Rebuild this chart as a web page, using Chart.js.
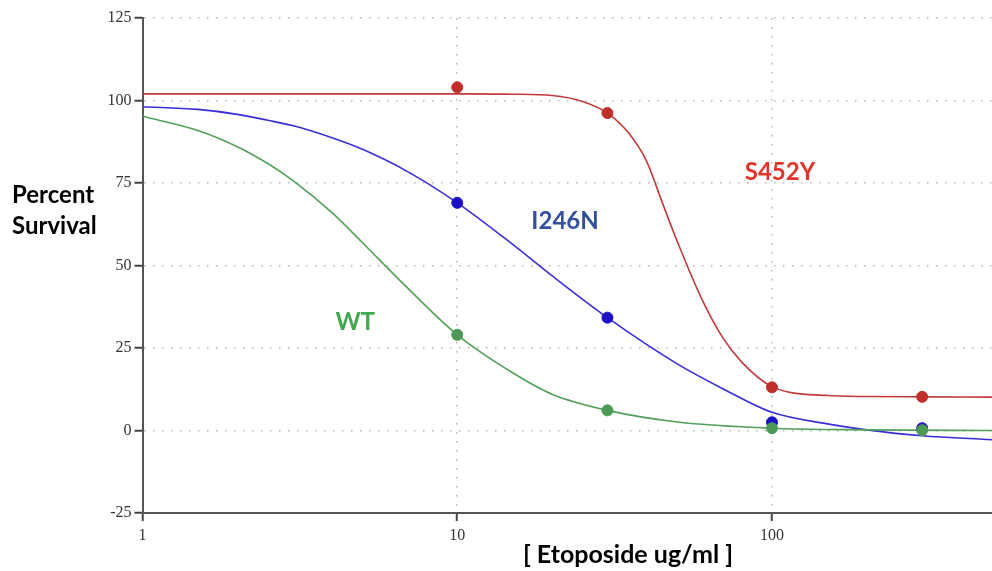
<!DOCTYPE html>
<html>
<head>
<meta charset="utf-8">
<script src="https://cdn.jsdelivr.net/npm/chart.js@4/dist/chart.umd.min.js"></script>
<style>
  html, body { margin: 0; padding: 0; background: #fff; }
  #wrap { width: 992px; height: 571px; }
</style>
</head>
<body>
<div id="wrap"><canvas id="chart1" width="992" height="571"></canvas></div>
<script>
// measured doses and survival
const doses = [10, 30, 100, 300];
const wtPoints = [29, 6.1, 0.7, 0.1];
const i246nPoints = [69, 34.2, 2.5, 0.7];
const s452yPoints = [104, 96.2, 13.1, 10.2];

// fitted curves
const wtCurveX = [1, 1.5, 2, 2.5, 3, 4, 5, 7, 10, 15, 20, 30, 50, 100, 200, 500];
const wtCurveY = [95.2, 90.9, 86, 80.9, 75.8, 66, 56.9, 42.9, 29, 17.5, 11, 6.1, 2.6, 0.7, 0.2, 0];

const i246nCurveX = [1, 1.5, 2, 2.5, 3, 4, 5, 7, 10, 15, 20, 30, 50, 70, 100, 150, 200, 300, 500];
const i246nCurveY = [98.1, 97.3, 95.8, 94, 92.4, 88.7, 85.2, 78.3, 69, 56.4, 46.9, 34.2, 20.2, 12.6, 5.5, 2, 0.2, -1.6, -2.8];

const s452yCurveX = [1, 5, 10, 15, 20, 25, 30, 35, 40, 45, 50, 60, 70, 80, 100, 150, 200, 300, 500];
const s452yCurveY = [102, 102, 102, 101.9, 101.5, 99.7, 96.2, 90.2, 81.5, 68.6, 57.3, 39.6, 27.9, 20.8, 13.3, 10.6, 10.3, 10.2, 10.1];

const xTicks = [1, 10, 100];

// series labels placed on the plot
const seriesLabels = [
  { text: 'S452Y', x: 106, y: 78.4, color: '#e2342b' },
  { text: 'I246N', x: 22, y: 63.5, color: '#33509c' },
  { text: 'WT', x: 4.74, y: 32.8, color: '#44a853' }
];

const toXY = (xs, ys) => xs.map((x, i) => ({ x: x, y: ys[i] }));

const labelsPlugin = {
  id: 'labelsPlugin',
  afterDraw(chart) {
    const ctx = chart.ctx;
    const xs = chart.scales.x, ys = chart.scales.y;
    ctx.save();
    ctx.textAlign = 'center';
    ctx.textBaseline = 'middle';
    ctx.font = 'bold 24px Lato';
    seriesLabels.forEach(l => {
      ctx.fillStyle = l.color;
      ctx.fillText(l.text, xs.getPixelForValue(l.x), ys.getPixelForValue(l.y));
    });
    // axis titles
    ctx.fillStyle = '#000';
    ctx.textAlign = 'left';
    ctx.font = 'bold 24px Lato';
    ctx.fillText('Percent', 12, 195);
    ctx.fillText('Survival', 12, 226);
    ctx.textAlign = 'center';
    ctx.font = 'bold 25px Lato';
    ctx.fillText('[ Etoposide ug/ml ]', 628, 555);
    ctx.restore();
  }
};

const ctx = document.getElementById('chart1').getContext('2d');
const chart1 = new Chart(ctx, {
  type: 'scatter',
  data: {
    datasets: [
      { label: 'WT', data: toXY(doses, wtPoints), backgroundColor: '#4a9a55', borderColor: '#4a9a55', pointRadius: 5.5 },
      { label: 'I246N', data: toXY(doses, i246nPoints), backgroundColor: '#1c10c4', borderColor: '#1c10c4', pointRadius: 5.5 },
      { label: 'S452Y', data: toXY(doses, s452yPoints), backgroundColor: '#bf2f2a', borderColor: '#bf2f2a', pointRadius: 5.5 },
      { label: 'WT fit', data: toXY(wtCurveX, wtCurveY), showLine: true, pointRadius: 0, borderColor: '#52a05a', borderWidth: 1.6, cubicInterpolationMode: 'monotone' },
      { label: 'I246N fit', data: toXY(i246nCurveX, i246nCurveY), showLine: true, pointRadius: 0, borderColor: '#3a2ed8', borderWidth: 1.6, cubicInterpolationMode: 'monotone' },
      { label: 'S452Y fit', data: toXY(s452yCurveX, s452yCurveY), showLine: true, pointRadius: 0, borderColor: '#c23a3a', borderWidth: 1.6, cubicInterpolationMode: 'monotone' }
    ]
  },
  options: {
    responsive: false,
    animation: false,
    layout: { autoPadding: false, padding: { top: 18, right: 0, left: 0, bottom: 0 } },
    plugins: {
      legend: { display: false },
      tooltip: { enabled: false }
    },
    scales: {
      x: {
        type: 'logarithmic',
        min: 1,
        max: 500,
        afterBuildTicks: scale => { scale.ticks = xTicks.map(v => ({ value: v })); },
        afterFit: scale => { scale.height = 58; },
        ticks: {
          callback: v => String(v),
          font: { family: 'Liberation Serif', size: 16 },
          color: '#333',
          padding: 5,
          maxRotation: 0,
          autoSkip: false
        },
        grid: { color: '#b5b5b5', lineWidth: 1.5, tickLength: 8, tickColor: '#444', tickWidth: 2 },
        border: { color: '#555', width: 2, dash: [1.5, 7.5] }
      },
      y: {
        min: -25,
        max: 125,
        afterFit: scale => { scale.width = 142.5; },
        ticks: {
          stepSize: 25,
          font: { family: 'Liberation Serif', size: 16 },
          color: '#333',
          padding: 3
        },
        grid: { color: '#b5b5b5', lineWidth: 1.5, tickLength: 8, tickColor: '#444', tickWidth: 2 },
        border: { color: '#555', width: 2, dash: [1.5, 7.5] }
      }
    }
  },
  plugins: [labelsPlugin]
});
</script>
</body>
</html>
